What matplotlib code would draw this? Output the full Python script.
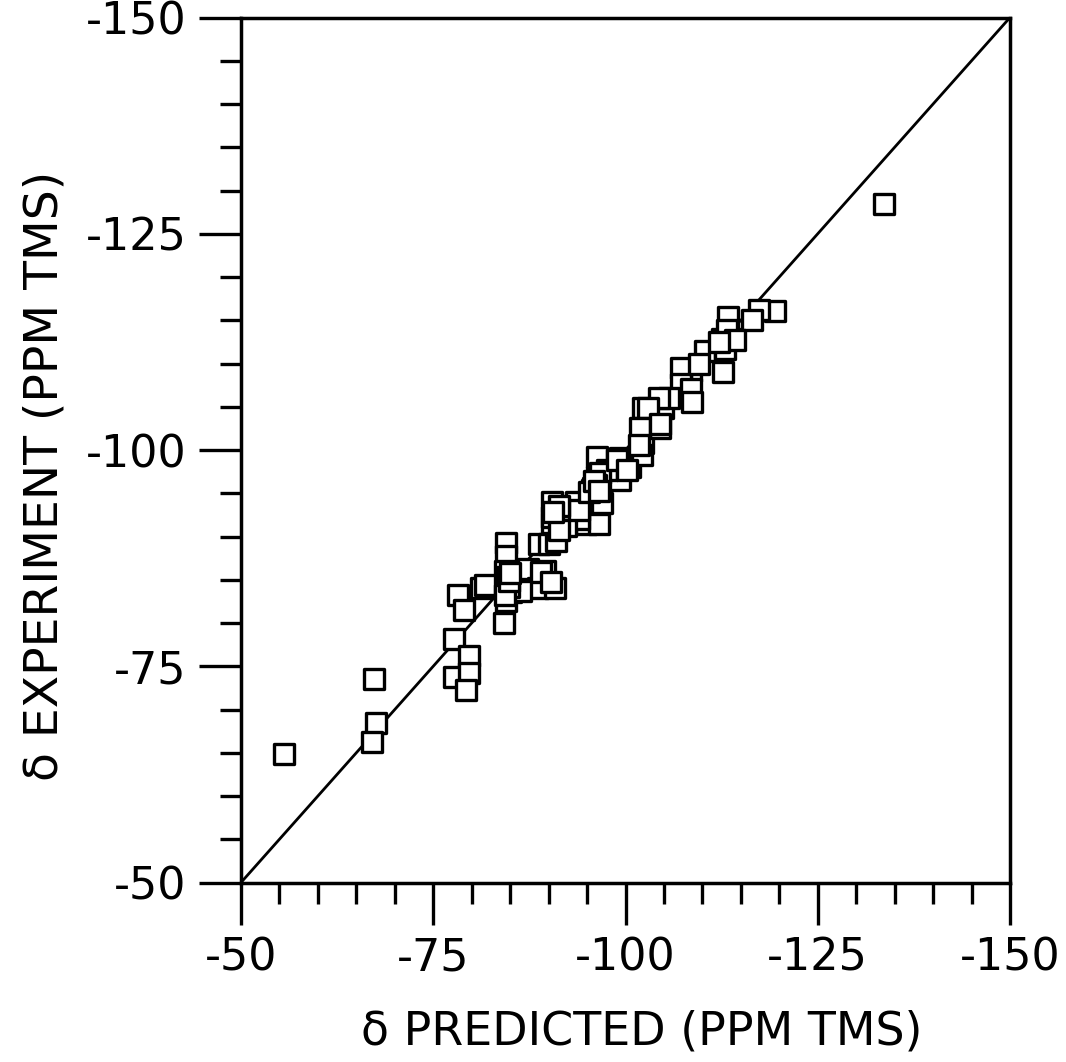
import matplotlib
matplotlib.use("Agg")
import matplotlib.pyplot as plt
from matplotlib.markers import MarkerStyle
from matplotlib.ticker import MultipleLocator, FixedLocator, FixedFormatter

plt.rcParams['font.family'] = ['DejaVu Sans']
plt.rcParams['axes.unicode_minus'] = False

# Data: predicted vs experimental shifts (ppm from TMS)
predicted = [
    -55.6, -67.3, -67.5, -67.0, -133.6,
    -78.2, -81.2, -79.0, -77.7, -79.7, -77.7, -79.7, -79.2,
    -84.5, -84.5, -84.3, -84.4, -84.4, -84.2, -84.7, -85.1,
    -88.7, -90.0, -91.0, -87.3, -89.5, -88.6, -90.8, -86.4,
    -90.5, -94.9, -96.6, -81.7, -89.0, -90.3,
    -90.5, -90.5, -93.6, -94.0, -92.2,
    -96.3, -96.3, -99.3, -100.6, -95.6, -99.3, -97.6,
    -102.3, -102.3, -102.2, -104.5, -104.9, -102.3,
    -112.7, -108.5, -107.2, -107.2, -108.5, -105.6, -104.3, -102.9,
    -108.6, -101.9, -104.5, -101.8,
    -96.7, -98.9, -100.2, -96.9, -94.0, -91.4, -91.3,
    -112.5, -113.8, -110.3, -112.9,
    -119.4, -117.4, -116.5, -113.3, -113.2, -114.2, -112.1, -109.5,
    -95.8, -96.2, -95.3, -84.6, -84.9, -84.3,
    -84.8, -85.0, -95.9, -96.5, -90.6,
]
experiment = [
    -64.8, -73.5, -68.4, -66.2, -128.4,
    -83.2, -84.0, -81.5, -78.1, -76.2, -73.7, -74.2, -72.2,
    -89.2, -87.8, -86.0, -83.8, -82.6, -80.0, -84.6, -83.6,
    -89.1, -89.1, -89.5, -86.2, -86.0, -84.1, -84.1, -83.7,
    -91.6, -91.5, -91.5, -84.4, -85.9, -84.7,
    -94.0, -92.3, -94.0, -92.0, -91.2,
    -99.2, -96.9, -99.1, -98.0, -95.4, -96.5, -97.7,
    -102.6, -100.8, -99.4, -102.5, -104.8, -104.9,
    -109.0, -109.1, -109.5, -107.6, -107.0, -106.0, -106.0, -104.8,
    -105.6, -102.6, -103.0, -100.6,
    -97.3, -98.8, -97.7, -93.9, -93.1, -93.5, -90.8,
    -112.8, -112.8, -111.4, -111.7,
    -116.1, -116.2, -115.0, -115.4, -113.9, -112.7, -112.5, -109.9,
    -95.6, -96.0, -95.1, -85.3, -84.2, -83.2,
    -84.9, -85.8, -96.4, -95.3, -92.8,
]
identity = [-50, -150]
major_ticks = [-50, -75, -100, -125, -150]
tick_labels = ['-50', '-75', '-100', '-125', '-150']

fig = plt.figure(figsize=(10.66, 10.62), dpi=100)
ax = fig.add_axes([241/1066, 1 - 882.5/1062, 769/1066, 865/1062])

ax.plot(identity, identity, color='black', lw=2.0, zorder=2)
sq = MarkerStyle('s', joinstyle='round')
ax.plot(predicted, experiment, linestyle='none', marker=sq, ms=14.5,
        mfc='white', mec='black', mew=2.4, zorder=3)

ax.set_xlim(-50, -150)
ax.set_ylim(-50, -150)

for axis in (ax.xaxis, ax.yaxis):
    axis.set_major_locator(FixedLocator(major_ticks))
    axis.set_major_formatter(FixedFormatter(tick_labels))
    axis.set_minor_locator(MultipleLocator(5))

ax.tick_params(which='major', direction='out', length=30, width=2.4,
               labelsize=32, pad=9, color='black')
ax.tick_params(which='minor', direction='out', length=15, width=2.4)
ax.tick_params(top=False, right=False, which='both')

for s in ax.spines.values():
    s.set_linewidth(2.5)
    s.set_color('black')

ax.set_xlabel('δ PREDICTED (PPM TMS)', fontsize=33)
ax.set_ylabel('δ EXPERIMENT (PPM TMS)', fontsize=34)
ax.xaxis.set_label_coords(0.521, -0.147)
ax.xaxis.label.set_va('top')
ax.yaxis.set_label_coords(-0.225, 0.47)

fig.savefig('out.png', dpi=100, facecolor='white')
